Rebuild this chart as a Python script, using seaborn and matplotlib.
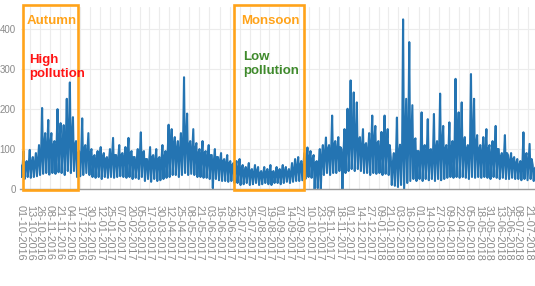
import numpy as np
import pandas as pd
import matplotlib
matplotlib.use("Agg")
import matplotlib.pyplot as plt
import matplotlib.transforms as mtransforms
from matplotlib.patches import Rectangle
import seaborn as sns

# ---------------- data ----------------
start_date = "2016-10-01"
slot_days = 4  # per 4-day slot: a peak, a trough and a typical band-top reading

high_values = [
    60, 95, 70, 98, 80, 90, 110, 203, 140, 173,
    140, 120, 200, 165, 160, 226, 267, 180, 120, 95,
    177, 110, 140, 100, 85, 95, 105, 90, 80, 100,
    128, 85, 110, 90, 105, 128, 95, 80, 100, 142,
    95, 75, 105, 85, 100, 80, 110, 95, 161, 150,
    130, 120, 140, 280, 189, 120, 150, 115, 100, 120,
    95, 110, 85, 100, 80, 90, 75, 85, 70, 65,
    70, 75, 60, 55, 65, 50, 60, 55, 45, 55,
    50, 60, 45, 55, 50, 60, 55, 50, 65, 75,
    80, 70, 90, 104, 95, 85, 70, 100, 110, 129,
    110, 184, 120, 130, 100, 150, 201, 272, 242, 217,
    130, 150, 115, 140, 184, 158, 120, 143, 184, 150,
    80, 90, 179, 111, 425, 226, 368, 210, 127, 95,
    192, 110, 175, 100, 188, 120, 239, 158, 110, 167,
    120, 276, 192, 217, 130, 110, 288, 226, 135, 110,
    130, 150, 110, 120, 158, 100, 90, 135, 85, 90,
    80, 75, 70, 142, 90, 113, 60, 55,
]
low_values = [
    30, 25, 30, 28, 30, 32, 35, 38, 40, 36,
    40, 38, 42, 40, 35, 45, 40, 45, 30, 32,
    35, 40, 35, 30, 28, 30, 25, 30, 28, 30,
    28, 30, 32, 30, 28, 30, 25, 28, 25, 30,
    20, 25, 18, 25, 20, 22, 25, 28, 30, 35,
    35, 30, 35, 40, 35, 38, 35, 30, 30, 28,
    28, 25, 2, 25, 22, 20, 20, 18, 20, 15,
    15, 10, 12, 15, 10, 12, 15, 10, 12, 15,
    12, 10, 15, 15, 12, 15, 18, 15, 18, 20,
    20, 22, 25, 30, 28, 0, 2, 0, 35, 40,
    35, 40, 40, 45, 0, 40, 45, 50, 45, 50,
    45, 40, 40, 35, 40, 38, 40, 35, 38, 35,
    10, 8, 5, 10, 0, 15, 20, 25, 20, 25,
    20, 25, 22, 25, 20, 25, 22, 25, 28, 30,
    28, 30, 28, 30, 28, 25, 30, 28, 30, 28,
    30, 28, 25, 30, 28, 25, 28, 25, 25, 28,
    25, 25, 22, 25, 22, 25, 20, 22,
]
band_values = [
    55, 60, 60, 65, 65, 70, 80, 110, 100, 110,
    110, 100, 120, 110, 110, 130, 130, 110, 90, 80,
    100, 90, 90, 80, 75, 80, 80, 75, 70, 80,
    85, 75, 85, 80, 85, 90, 80, 70, 80, 90,
    75, 65, 80, 70, 75, 70, 80, 80, 110, 110,
    100, 95, 100, 120, 110, 95, 100, 90, 85, 90,
    80, 85, 70, 80, 70, 70, 65, 65, 60, 55,
    50, 50, 45, 45, 45, 40, 45, 40, 38, 42,
    40, 42, 38, 42, 40, 45, 42, 40, 48, 55,
    60, 55, 70, 80, 75, 65, 60, 80, 90, 100,
    90, 110, 100, 105, 85, 110, 120, 130, 120, 120,
    105, 110, 95, 105, 120, 115, 100, 105, 115, 110,
    65, 70, 90, 85, 110, 110, 120, 120, 95, 80,
    100, 85, 95, 80, 100, 90, 110, 100, 85, 100,
    95, 120, 110, 110, 100, 90, 120, 110, 100, 90,
    95, 100, 85, 90, 100, 80, 75, 90, 70, 75,
    65, 60, 60, 80, 70, 75, 50, 45,
]

tick_labels = [
    "01-10-2016", "13-10-2016", "26-10-2016", "08-11-2016", "21-11-2016",
    "04-12-2016", "17-12-2016", "30-12-2016", "12-01-2017", "25-01-2017",
    "07-02-2017", "20-02-2017", "05-03-2017", "17-03-2017", "30-03-2017",
    "12-04-2017", "25-04-2017", "08-05-2017", "21-05-2017", "03-06-2017",
    "16-06-2017", "29-06-2017", "12-07-2017", "25-07-2017", "07-08-2017",
    "19-08-2017", "01-09-2017", "14-09-2017", "27-09-2017", "10-10-2017",
    "23-10-2017", "05-11-2017", "18-11-2017", "01-12-2017", "14-12-2017",
    "27-12-2017", "09-01-2018", "21-01-2018", "03-02-2018", "16-02-2018",
    "01-03-2018", "14-03-2018", "27-03-2018", "09-04-2018", "22-04-2018",
    "05-05-2018", "18-05-2018", "31-05-2018", "13-06-2018", "25-06-2018",
    "08-07-2018", "21-07-2018",
]
y_ticks = [0, 100, 200, 300, 400]

season_names = ["Autumn", "Monsoon"]
season_notes = ["High\npollution", "Low\npollution"]
season_note_colors = ["#ff1414", "#3f8a2c"]
season_starts = ["2016-10-04", "2017-07-05"]
season_ends = ["2016-12-15", "2017-10-03"]

# ---------------- build long table ----------------
t0 = pd.Timestamp(start_date)
n = len(high_values)
step = pd.Timedelta(days=slot_days)
third = pd.Timedelta(days=slot_days / 3)
dates, values = [], []
for i in range(n):
    base = t0 + step * i
    dates += [base, base + third, base + 2 * third]
    values += [high_values[i], low_values[i], band_values[i]]
df = pd.DataFrame({"date": dates, "value": values})

# ---------------- figure ----------------
sns.set_theme(style="whitegrid")
plt.rcParams["font.family"] = ["Liberation Sans", "DejaVu Sans"]

W, H = 535, 286
fig = plt.figure(figsize=(W / 100, H / 100), dpi=100)
ax_left, ax_right, ax_top, ax_bottom = 20.5, 535, 7, 189.4
ax = fig.add_axes([ax_left / W, (H - ax_bottom) / H,
                   (ax_right - ax_left) / W, (ax_bottom - ax_top) / H])

sns.lineplot(data=df, x="date", y="value", ax=ax, color="#2474b2",
             linewidth=1.5, estimator=None, sort=True)

px_per_day = (ax_right - ax_left) / 667.0
x_end = t0 + pd.Timedelta(days=667.0)
ax.set_xlim(t0, x_end)
ax.set_ylim(-1, 456)

tick_dates = pd.to_datetime(tick_labels, format="%d-%m-%Y")
ax.set_xticks(tick_dates)
ax.set_xticklabels(tick_labels, rotation=270, fontsize=7.8, color="#8a8a8a",
                   va="top", ha="center")
ax.set_yticks(y_ticks)
ax.set_yticklabels([str(v) for v in y_ticks], fontsize=7, color="#8a8a8a")

ax.set_xlabel("")
ax.set_ylabel("")
ax.set_facecolor("white")
ax.grid(True, color="#ececec", linewidth=0.8)
ax.tick_params(axis="x", length=5, color="#eeeeee", pad=6.5, width=0.8)
ax.tick_params(axis="y", length=2.5, color="#aaaaaa", pad=0.8, width=0.8)
for side in ["top", "right", "left"]:
    ax.spines[side].set_visible(False)
ax.spines["bottom"].set_visible(True)
ax.spines["bottom"].set_color("#9a9a9a")
ax.spines["bottom"].set_linewidth(1.0)

# season boxes and notes
trans = mtransforms.blended_transform_factory(ax.transData, ax.transAxes)
orange = "#ffa31a"
name_offsets_px = [4, 7]
note_offsets_px = [6, 9]
note_y = [0.672, 0.688]
for i, name in enumerate(season_names):
    s = pd.Timestamp(season_starts[i])
    e = pd.Timestamp(season_ends[i])
    xs = matplotlib.dates.date2num(s)
    xe = matplotlib.dates.date2num(e)
    rect = Rectangle((xs, -0.005), xe - xs, 1.0175, transform=trans,
                     fill=False, edgecolor=orange, linewidth=1.9,
                     clip_on=False, zorder=5)
    ax.add_patch(rect)
    ax.text(xs + name_offsets_px[i] / px_per_day, 0.925, name,
            transform=trans, color=orange, fontsize=9.5, fontweight="bold",
            va="center", ha="left", zorder=6)
    ax.text(xs + note_offsets_px[i] / px_per_day, note_y[i],
            season_notes[i], transform=trans, color=season_note_colors[i],
            fontsize=9.5, fontweight="bold", va="center", ha="left",
            linespacing=1.2, zorder=6)

fig.savefig("out.png", dpi=100)
